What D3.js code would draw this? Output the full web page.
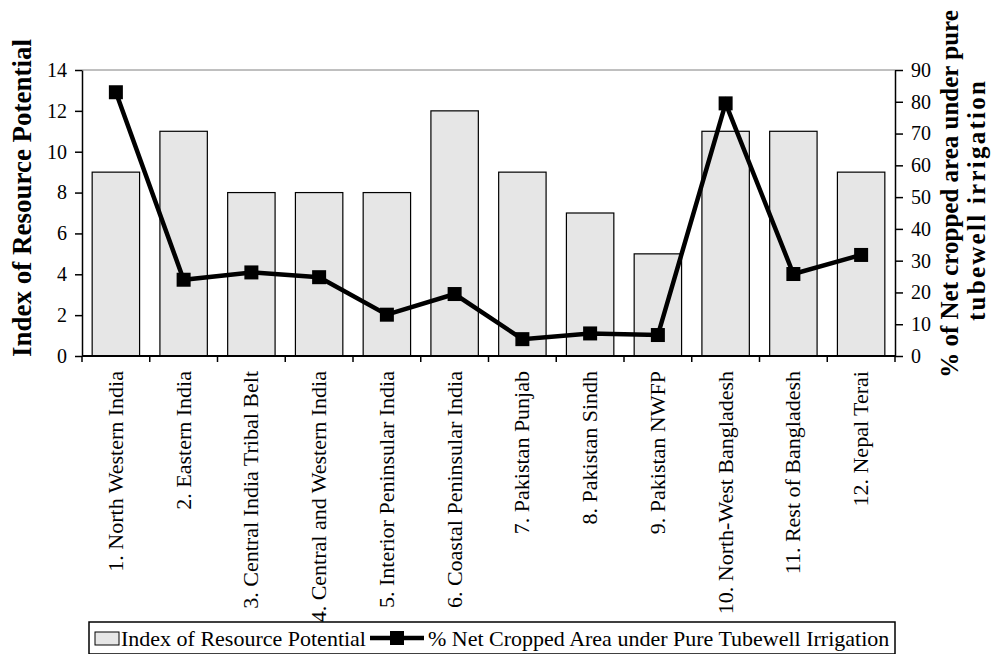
<!DOCTYPE html>
<html><head><meta charset="utf-8">
<script src="https://cdn.jsdelivr.net/npm/d3@7/dist/d3.min.js"></script>
<style>body{margin:0;background:#fff;} svg{display:block;}</style>
</head><body>
<svg id="c" width="994" height="654"></svg>
<script>
const categories = ["1. North Western India","2. Eastern India","3. Central India Tribal Belt","4. Central and Western India","5. Interior Peninsular India","6. Coastal Peninsular India","7. Pakistan Punjab","8. Pakistan Sindh","9. Pakistan NWFP","10. North-West Bangladesh","11. Rest of  Bangladesh","12. Nepal Terai"];
const resourceIndex = [9,11,8,8,8,12,9,7,5,11,11,9];
const tubewellPct = [83,24,26.3,24.8,13,19.5,5.3,7.1,6.6,79.5,25.8,31.8];
const leftTicks = [0,2,4,6,8,10,12,14];
const rightTicks = [0,10,20,30,40,50,60,70,80,90];

const svg = d3.select("#c");
const L=82, R=895, T=70, B=356;
const x = d3.scaleBand().domain(categories).range([L,R]).paddingInner(0.3).paddingOuter(0.15);
const yL = d3.scaleLinear().domain([0,14]).range([B,T]);
const yR = d3.scaleLinear().domain([0,90]).range([B,T]);

svg.append("line").attr("x1",L).attr("x2",R).attr("y1",T).attr("y2",T).attr("stroke","#808080").attr("stroke-width",1);

svg.selectAll("rect.bar").data(resourceIndex).join("rect")
  .attr("x",(d,i)=>x(categories[i])).attr("width",x.bandwidth())
  .attr("y",d=>yL(d)).attr("height",d=>B-yL(d))
  .attr("fill","#e6e6e6").attr("stroke","#000").attr("stroke-width",1.2);

const gl = svg.append("g").attr("transform",`translate(${L},0)`)
  .call(d3.axisLeft(yL).tickValues(leftTicks).tickSize(7).tickSizeOuter(0).tickPadding(8));
const gr = svg.append("g").attr("transform",`translate(${R},0)`)
  .call(d3.axisRight(yR).tickValues(rightTicks).tickSize(8).tickSizeOuter(0).tickPadding(8));
[gl,gr].forEach(g=>{g.selectAll("text").attr("font-size","20px").attr("fill","#000");
  g.select(".domain").attr("stroke","#000").attr("stroke-width",1.5);
  g.selectAll(".tick line").attr("stroke","#000").attr("stroke-width",1.5);});

svg.append("line").attr("x1",L).attr("x2",R).attr("y1",B).attr("y2",B).attr("stroke","#000").attr("stroke-width",2);
const bounds = d3.range(categories.length+1).map(i=>L+i*(R-L)/categories.length);
svg.selectAll("line.xt").data(bounds).join("line")
  .attr("x1",d=>d).attr("x2",d=>d).attr("y1",B).attr("y2",B+6).attr("stroke","#000").attr("stroke-width",1.5);
svg.selectAll("text.xl").data(categories).join("text")
  .attr("transform",d=>`translate(${x(d)+x.bandwidth()/2+7},${B+15}) rotate(-90)`)
  .attr("text-anchor","end").attr("font-size","22px").text(d=>d);

const line = d3.line().x((d,i)=>x(categories[i])+x.bandwidth()/2).y(d=>yR(d));
svg.append("path").datum(tubewellPct).attr("d",line).attr("fill","none").attr("stroke","#000").attr("stroke-width",4.5).attr("stroke-linejoin","miter");
svg.selectAll("rect.mk").data(tubewellPct).join("rect")
  .attr("x",(d,i)=>x(categories[i])+x.bandwidth()/2-7).attr("y",d=>yR(d)-7)
  .attr("width",14).attr("height",14).attr("fill","#000");

svg.append("text").attr("transform","translate(31,198) rotate(-90)").attr("text-anchor","middle")
  .attr("font-size","27px").attr("font-weight","bold").text("Index of Resource Potential");
svg.append("text").attr("transform","translate(958,194) rotate(-90)").attr("text-anchor","middle")
  .attr("font-size","25px").attr("font-weight","bold").text("% of Net cropped area under pure");
svg.append("text").attr("transform","translate(985,201) rotate(-90)").attr("text-anchor","middle")
  .attr("font-size","25px").attr("font-weight","bold").attr("textLength",240).attr("lengthAdjust","spacing").text("tubewell irrigation");

// legend
svg.append("rect").attr("x",89).attr("y",622).attr("width",806).attr("height",32).attr("fill","#fff").attr("stroke","#000").attr("stroke-width",1.5);
svg.append("rect").attr("x",95).attr("y",632).attr("width",24).attr("height",13).attr("fill","#e6e6e6").attr("stroke","#000");
svg.append("text").attr("x",98+23).attr("y",646).attr("font-size","22px").text("Index of Resource Potential");
svg.append("line").attr("x1",370).attr("x2",424).attr("y1",638).attr("y2",638).attr("stroke","#000").attr("stroke-width",4.5);
svg.append("rect").attr("x",390).attr("y",631).attr("width",14).attr("height",14).attr("fill","#000");
svg.append("text").attr("x",428).attr("y",646).attr("font-size","22px").text("% Net Cropped Area under Pure Tubewell Irrigation");

svg.selectAll("text").style("font-family","'Liberation Serif'").attr("fill","#000");
</script>
</body></html>
